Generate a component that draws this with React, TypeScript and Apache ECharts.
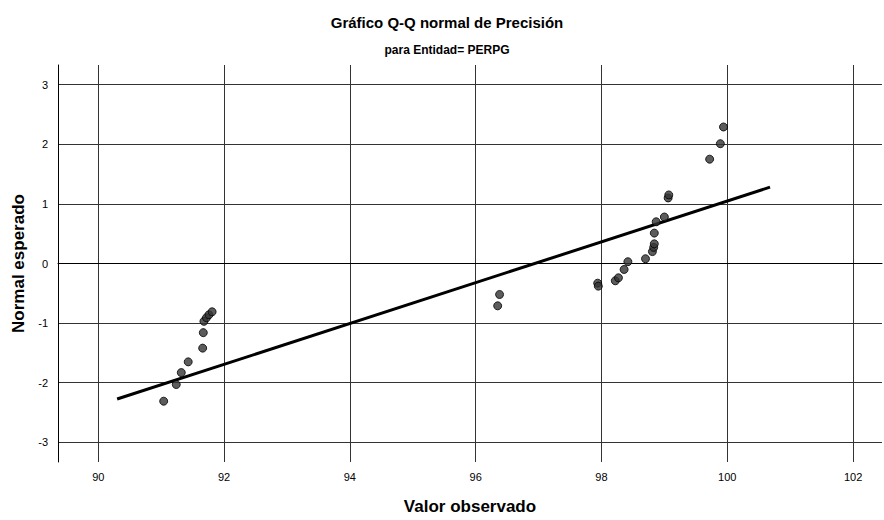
import React, { useEffect, useRef } from "react";
import * as echarts from "echarts";

const observedValues = [
  91.04, 91.24, 91.32, 91.43, 91.66, 91.67, 91.68, 91.72, 91.76, 91.81,
  96.35, 96.38,
  97.94, 97.95, 98.22, 98.27, 98.36, 98.42, 98.70, 98.81, 98.83, 98.84, 98.84,
  98.87, 99.0, 99.06, 99.07, 99.72, 99.89, 99.94,
];
const expectedNormal = [
  -2.31, -2.03, -1.83, -1.65, -1.42, -1.16, -0.97, -0.91, -0.86, -0.81,
  -0.71, -0.52,
  -0.33, -0.38, -0.29, -0.24, -0.1, 0.03, 0.08, 0.2, 0.27, 0.33, 0.51,
  0.7, 0.78, 1.1, 1.15, 1.75, 2.01, 2.29,
];
const refMean = 96.94;
const refSd = 2.92;
const refLineX = [90.3, 100.68];
const xTicks = [90, 92, 94, 96, 98, 100, 102];
const yTicks = [-3, -2, -1, 0, 1, 2, 3];

export default function App() {
  const ref = useRef<HTMLDivElement>(null);
  useEffect(() => {
    if (!ref.current) return;
    const chart = echarts.init(ref.current, null, { renderer: "svg" });
    const font = "'Liberation Sans', Arial, sans-serif";
    chart.setOption({
      animation: false,
      backgroundColor: "#ffffff",
      title: [
        {
          text: "Gráfico Q-Q normal de Precisión",
          left: 442,
          top: 10,
          textAlign: "center",
          textStyle: { fontFamily: font, fontSize: 15, fontWeight: "bold", color: "#000" },
        },
        {
          text: "para Entidad= PERPG",
          left: 442,
          top: 39,
          textAlign: "center",
          textStyle: { fontFamily: font, fontSize: 12, fontWeight: "bold", color: "#000" },
        },
      ],
      grid: { left: 58, right: 2, top: 65, bottom: 55, containLabel: false },
      xAxis: {
        type: "value",
        min: 89.36,
        max: 102.46,
        name: "Valor observado",
        nameLocation: "middle",
        nameGap: 36,
        nameTextStyle: { fontFamily: font, fontSize: 17, fontWeight: "bold", color: "#000" },
        axisLine: { show: true, lineStyle: { color: "#000", width: 1 } },
        axisTick: { show: false, customValues: xTicks },
        axisLabel: {
          customValues: xTicks,
          fontFamily: font,
          fontSize: 11,
          color: "#000",
          margin: 9,
        },
        splitLine: { show: true, lineStyle: { color: "#333", width: 1 } },
      },
      yAxis: {
        type: "value",
        min: -3.33,
        max: 3.33,
        name: "Normal esperado",
        nameLocation: "middle",
        nameGap: 30,
        nameRotate: 90,
        nameTextStyle: { fontFamily: font, fontSize: 17, fontWeight: "bold", color: "#000" },
        axisLine: { show: true, lineStyle: { color: "#000", width: 1 } },
        axisTick: { show: false, customValues: yTicks },
        axisLabel: {
          customValues: yTicks,
          fontFamily: font,
          fontSize: 11,
          color: "#000",
          margin: 10,
        },
        splitLine: { show: true, lineStyle: { color: "#333", width: 1 } },
      },
      series: [
        {
          type: "line",
          data: refLineX.map((x) => [x, (x - refMean) / refSd]),
          showSymbol: false,
          symbol: "none",
          lineStyle: { color: "#000", width: 3 },
          z: 3,
        },
        {
          type: "scatter",
          data: observedValues.map((x, i) => [x, expectedNormal[i]]),
          symbolSize: 8,
          itemStyle: { color: "#333", borderColor: "#000", borderWidth: 1 },
          z: 4,
        },
      ],
    });
    return () => chart.dispose();
  }, []);
  return <div ref={ref} style={{ width: 884, height: 520, position: "absolute", left: 0, top: 0 }} />;
}
